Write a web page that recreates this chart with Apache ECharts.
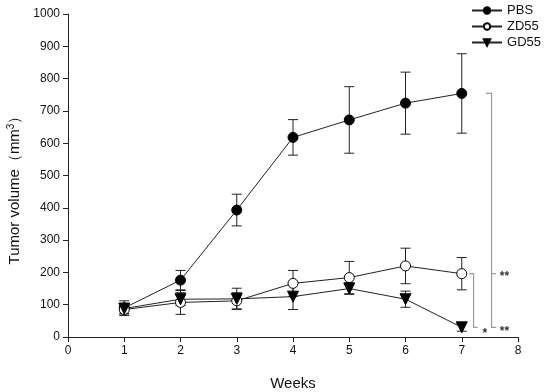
<!DOCTYPE html>
<html>
<head>
<meta charset="utf-8">
<script src="https://cdn.jsdelivr.net/npm/echarts@6/dist/echarts.min.js"></script>
<style>
  html, body { margin: 0; padding: 0; background: #fff; }
  #chart { width: 550px; height: 392px; }
</style>
</head>
<body>
<div id="chart"></div>
<script>
const weeks = [1, 2, 3, 4, 5, 6, 7];
const pbsMean = [90, 176, 393, 618, 672, 724, 754];
const pbsErr = [22, 30, 49, 55, 103, 96, 123];
const zdMean = [85, 107, 112, 166, 184, 220, 196];
const zdErr = [18, 37, 25, 40, 50, 55, 50];
const gdMean = [88, 117, 118, 125, 150, 117, 30];
const gdErr = [15, 20, 33, 40, 18, 25, 12];
const xTicks = [0, 1, 2, 3, 4, 5, 6, 7, 8];
const yTicks = [0, 100, 200, 300, 400, 500, 600, 700, 800, 900, 1000];

const FONT = '"Liberation Sans", Arial, sans-serif';
const INK = '#222';
const BRACKET = '#9a9a9a';

function pairs(means) {
  return weeks.map((w, i) => [w, means[i]]);
}
function errRows(means, errs) {
  return weeks.map((w, i) => [w, means[i] - errs[i], means[i] + errs[i]]);
}

function errorBarSeries(means, errs) {
  return {
    type: 'custom',
    silent: true,
    z: 1,
    data: errRows(means, errs),
    renderItem: (params, api) => {
      const lo = api.coord([api.value(0), api.value(1)]);
      const hi = api.coord([api.value(0), api.value(2)]);
      const cap = 5;
      const style = { stroke: INK, lineWidth: 1 };
      return {
        type: 'group',
        children: [
          { type: 'line', shape: { x1: lo[0], y1: lo[1], x2: hi[0], y2: hi[1] }, style },
          { type: 'line', shape: { x1: lo[0] - cap, y1: lo[1], x2: lo[0] + cap, y2: lo[1] }, style },
          { type: 'line', shape: { x1: hi[0] - cap, y1: hi[1], x2: hi[0] + cap, y2: hi[1] }, style },
        ],
      };
    },
  };
}

// significance brackets, in data units (x in weeks, y in mm3)
const pbsBracket = { xTick: 7.43, xLine: 7.53, xOut: 7.61, yTop: pbsMean[6], yMid: zdMean[6], yBot: gdMean[6] };
const zdBracket = { xTick: 7.13, xLine: 7.21, xOut: 7.28, yTop: zdMean[6], yBot: gdMean[6] };
const stars = [
  { x: 7.76, y: zdMean[6], text: '**' },
  { x: 7.76, y: gdMean[6] - 4, text: '**' },
  { x: 7.41, y: gdMean[6] - 9, text: '*' },
];

const bracketSeries = {
  type: 'custom',
  silent: true,
  z: 1,
  data: [0],
  renderItem: (params, api) => {
    const style = { stroke: BRACKET, lineWidth: 1.2, fill: null };
    const c = (x, y) => api.coord([x, y]);
    const b = pbsBracket;
    const z = zdBracket;
    const children = [
      { type: 'polyline', style, shape: { points: [
        c(b.xTick, b.yTop), c(b.xLine, b.yTop), c(b.xLine, b.yBot), c(b.xOut, b.yBot)] } },
      { type: 'polyline', style, shape: { points: [c(b.xLine, b.yMid), c(b.xOut, b.yMid)] } },
      { type: 'polyline', style, shape: { points: [
        c(z.xTick, z.yTop), c(z.xLine, z.yTop), c(z.xLine, z.yBot), c(z.xOut, z.yBot)] } },
    ];
    stars.forEach((s) => {
      const p = c(s.x, s.y);
      children.push({
        type: 'text',
        x: p[0],
        y: p[1] + 3,
        style: { text: s.text, fill: '#333', font: 'bold 12px ' + FONT, align: 'center', verticalAlign: 'middle' },
      });
    });
    return { type: 'group', children };
  },
};

const lineBase = {
  type: 'line',
  z: 3,
  lineStyle: { color: INK, width: 1 },
  emphasis: { disabled: true },
  animation: false,
};

const chart = echarts.init(document.getElementById('chart'));
chart.setOption({
  animation: false,
  backgroundColor: '#fff',
  textStyle: { fontFamily: FONT },
  grid: { left: 68, right: 32, top: 14, bottom: 55, containLabel: false, outerBoundsMode: 'none' },
  legend: {
    orient: 'vertical',
    right: 4,
    top: -1,
    itemWidth: 30,
    itemHeight: 8,
    itemGap: 3,
    data: ['PBS', 'ZD55', 'GD55'],
    textStyle: { fontFamily: FONT, fontSize: 13, color: '#111' },
  },
  xAxis: {
    type: 'value',
    min: 0,
    max: 8,
    interval: 1,
    name: 'Weeks',
    nameLocation: 'middle',
    nameGap: 39,
    nameTextStyle: { fontFamily: FONT, fontSize: 15, color: '#111' },
    axisLine: { lineStyle: { color: INK, width: 1 } },
    axisTick: { lineStyle: { color: INK }, length: 5 },
    axisLabel: { color: '#111', fontSize: 12, fontFamily: FONT, margin: 8,
      formatter: (v) => (xTicks.includes(v) ? String(v) : '') },
    splitLine: { show: false },
  },
  yAxis: {
    type: 'value',
    min: 0,
    max: 1000,
    interval: 100,
    name: 'Tumor volume\uff08mm{sup|3}\uff09',
    nameLocation: 'middle',
    nameGap: 44,
    nameTextStyle: {
      fontFamily: FONT, fontSize: 15, color: '#111', padding: [0, 22, 0, 0],
      rich: { sup: { fontFamily: FONT, fontSize: 10, color: '#111', verticalAlign: 'top', padding: [0, 0, 8, 0] } },
    },
    axisLine: { show: true, lineStyle: { color: INK, width: 1 } },
    axisTick: { show: true, lineStyle: { color: INK }, length: 5 },
    axisLabel: { color: '#111', fontSize: 12, fontFamily: FONT, margin: 8,
      formatter: (v) => (yTicks.includes(v) ? String(v) : '') },
    splitLine: { show: false },
  },
  series: [
    errorBarSeries(pbsMean, pbsErr),
    errorBarSeries(zdMean, zdErr),
    errorBarSeries(gdMean, gdErr),
    bracketSeries,
    Object.assign({}, lineBase, {
      name: 'PBS',
      data: pairs(pbsMean),
      symbol: 'circle',
      symbolSize: 10,
      itemStyle: { color: '#000', borderColor: '#000', borderWidth: 1 },
    }),
    Object.assign({}, lineBase, {
      name: 'ZD55',
      data: pairs(zdMean),
      symbol: 'circle',
      symbolSize: 10,
      itemStyle: { color: '#fff', borderColor: '#000', borderWidth: 1 },
    }),
    Object.assign({}, lineBase, {
      name: 'GD55',
      data: pairs(gdMean),
      symbol: 'triangle',
      symbolRotate: 180,
      symbolSize: 11,
      itemStyle: { color: '#000', borderColor: '#000', borderWidth: 1 },
    }),
  ],
});
</script>
</body>
</html>
